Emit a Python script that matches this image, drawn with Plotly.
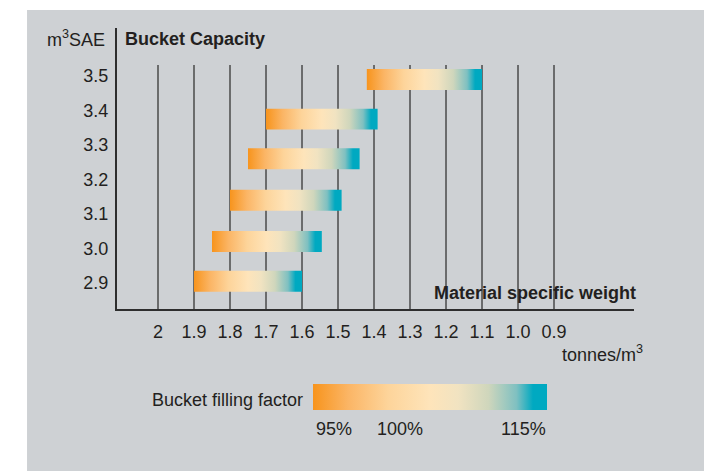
import plotly.graph_objects as go

# ---------------- data ----------------
capacity_ticks = [2.9, 3.0, 3.1, 3.2, 3.3, 3.4, 3.5]
capacity_labels = ["2.9", "3.0", "3.1", "3.2", "3.3", "3.4", "3.5"]
weight_ticks = [2.0, 1.9, 1.8, 1.7, 1.6, 1.5, 1.4, 1.3, 1.2, 1.1, 1.0, 0.9]
weight_labels = ["2", "1.9", "1.8", "1.7", "1.6", "1.5", "1.4", "1.3", "1.2", "1.1", "1.0", "0.9"]
bar_capacity = [3.49, 3.375, 3.26, 3.14, 3.02, 2.905]
weight_at_95 = [1.42, 1.70, 1.75, 1.80, 1.85, 1.90]
weight_at_115 = [1.10, 1.39, 1.44, 1.49, 1.545, 1.60]
fill_labels = ["95%", "100%", "115%"]
fill_label_pos = [0.4188, 0.5474, 0.7863]
gradient = [[0.0, "#F7941D"], [0.15, "#FBB565"], [0.32, "#FDD49A"], [0.5, "#FEE4BA"],
            [0.62, "#F1E3C1"], [0.75, "#CFD6BC"], [0.87, "#7FC0C1"], [0.94, "#00A9C1"],
            [1.0, "#00A9C1"]]

# ---------------- style ----------------
FONT = "Liberation Sans, Arial, sans-serif"
TXT = "#231F20"
PANEL = "#CED1D4"
BAR_HALF = 0.0304

fig = go.Figure()

for cap, hi, lo in zip(bar_capacity, weight_at_95, weight_at_115):
    fig.add_trace(go.Scatter(
        x=[hi, lo, lo, hi, hi],
        y=[cap - BAR_HALF, cap - BAR_HALF, cap + BAR_HALF, cap + BAR_HALF, cap - BAR_HALF],
        mode="lines", fill="toself", line=dict(width=0),
        fillgradient=dict(type="horizontal", colorscale=gradient, start=hi, stop=lo),
        hoverinfo="skip", showlegend=False,
    ))

# legend colour bar
fig.add_trace(go.Scatter(
    x=[None, None], y=[None, None], mode="markers", showlegend=False, hoverinfo="skip",
    marker=dict(color=[0, 1], cmin=0, cmax=1, colorscale=gradient, showscale=True,
                colorbar=dict(orientation="h", thickness=26, thicknessmode="pixels",
                              len=234, lenmode="pixels", x=0.6054, xanchor="center",
                              y=-0.3132, yanchor="middle", xpad=0, ypad=0,
                              outlinewidth=0, showticklabels=False, ticks="")),
))

shapes = [dict(type="rect", xref="paper", yref="paper", x0=-0.174, x1=1.139,
               y0=-0.7, y1=1.064, fillcolor=PANEL, line=dict(width=0), layer="below")]
for w in weight_ticks:
    shapes.append(dict(type="line", xref="x", yref="paper", x0=w, x1=w, y0=0, y1=0.868,
                       line=dict(color="#4A4A4A", width=1.5), layer="below"))

ann = [
    dict(text="m<sup>3</sup>SAE", x=0, xanchor="right", xshift=-10, y=0.9609, yanchor="middle"),
    dict(text="<b>Bucket Capacity</b>", x=0, xanchor="left", xshift=6, y=0.9609, yanchor="middle"),
    dict(text="<b>Material specific weight</b>", x=1.0077, xanchor="right", y=0.0569, yanchor="middle"),
    dict(text="tonnes/m<sup>3</sup>", x=1.0213, xanchor="right", y=-0.1566, yanchor="middle"),
    dict(text="Bucket filling factor", x=0.3636, xanchor="right", y=-0.3238, yanchor="middle"),
]
for lab, pos in zip(fill_labels, fill_label_pos):
    ann.append(dict(text=lab, x=pos, xanchor="center", y=-0.427, yanchor="middle"))
for a in ann:
    a.update(xref="paper", yref="paper", showarrow=False, font=dict(family=FONT, size=18, color=TXT))

fig.update_layout(
    width=704, height=463,
    margin=dict(l=109, r=78, t=20, b=162),
    paper_bgcolor="white", plot_bgcolor="rgba(0,0,0,0)",
    shapes=shapes, annotations=ann,
    font=dict(family=FONT, size=18, color=TXT),
    xaxis=dict(range=[2.1139, 0.6778], tickvals=weight_ticks, ticktext=weight_labels,
               showgrid=False, zeroline=False, showline=True, linecolor="#2E2E2E", linewidth=2,
               ticks="", ticklabelstandoff=5, tickfont=dict(size=18)),
    yaxis=dict(range=[2.8246, 3.6391], tickvals=capacity_ticks, ticktext=capacity_labels,
               showgrid=False, zeroline=False, showline=True, linecolor="#2E2E2E", linewidth=2,
               ticks="", ticklabelstandoff=3, tickfont=dict(size=18)),
)

fig.write_html("out.html")
